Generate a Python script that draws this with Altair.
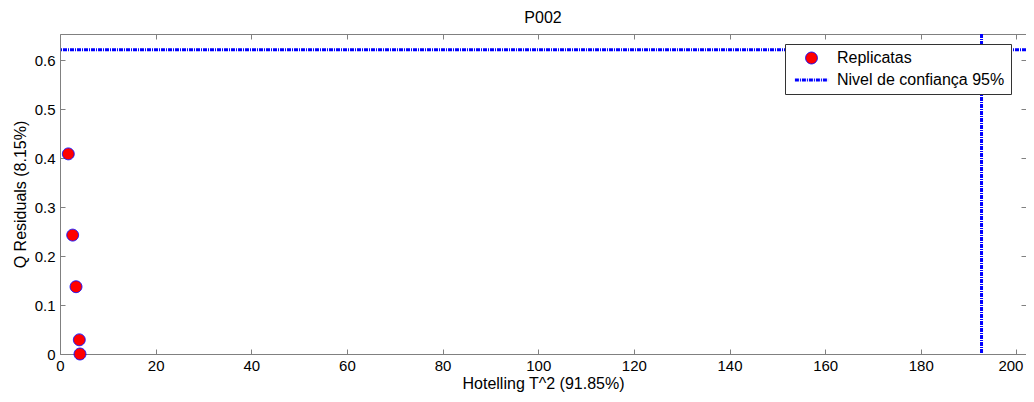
import altair as alt
import pandas as pd

# data
t2_values = [1.74, 2.65, 3.35, 4.04, 4.18]
q_values = [0.409, 0.243, 0.1375, 0.029, 0.0]
t2_limit = [192.7]
q_limit = [0.6217]
series_names = ["Replicatas", "Nivel de confiança 95%"]
x_ticks = [0, 20, 40, 60, 80, 100, 120, 140, 160, 180, 200]
y_ticks = [0, 0.1, 0.2, 0.3, 0.4, 0.5, 0.6]

points = pd.DataFrame({"t2": t2_values, "q": q_values, "series": series_names[0]})
vlim = pd.DataFrame({"t2": t2_limit, "series": series_names[1]})
hlim = pd.DataFrame({"q": q_limit, "series": series_names[1]})

FONT = "Liberation Sans"
GRAY = "#808080"
BLUE = "#0000ff"
DASH = [4, 1, 1, 1]
xdom = [0, 202]
ydom = [0, 0.654]

axis_common = dict(domain=False, grid=False, tickColor=GRAY, tickSize=5, offset=-5,
                   labelFont=FONT, labelFontSize=15, labelColor="black",
                   titleFont=FONT, titleFontSize=16, titleColor="black", titleFontWeight="normal")

x_bottom = alt.X("t2:Q", scale=alt.Scale(domain=xdom, nice=False, zero=False),
                 axis=alt.Axis(values=x_ticks, title="Hotelling T^2 (91.85%)", labelPadding=4,
                               titlePadding=2, labelFlush=False,
                               labelOffset={"condition": {"test": "datum.value == 200", "value": -6}, "value": 0},
                               **axis_common))
y_left = alt.Y("q:Q", scale=alt.Scale(domain=ydom, nice=False, zero=False),
               axis=alt.Axis(values=y_ticks, format="~g", title="Q Residuals (8.15%)",
                             labelPadding=5, titlePadding=6, labelFlush=False, **axis_common))

sdom = series_names
legend = alt.Legend(title=None, orient="none", legendX=725, legendY=10,
                    fillColor="white", strokeColor="#333333", padding=6,
                    labelFont=FONT, labelFontSize=16, labelColor="black", labelLimit=400,
                    rowPadding=6, clipHeight=16, symbolOffset=2, labelOffset=7)

pts = alt.Chart(points).mark_point(filled=True, opacity=1).encode(
    x=x_bottom,
    y=y_left,
    fill=alt.Fill("series:N", scale=alt.Scale(domain=sdom, range=["#ff0000", BLUE]), legend=legend),
    stroke=alt.Stroke("series:N", scale=alt.Scale(domain=sdom, range=[BLUE, BLUE])),
    shape=alt.Shape("series:N", scale=alt.Scale(domain=sdom, range=["circle", "stroke"])),
    size=alt.Size("series:N", scale=alt.Scale(domain=sdom, range=[140, 1100])),
    strokeWidth=alt.StrokeWidth("series:N", scale=alt.Scale(domain=sdom, range=[1, 3])),
    strokeDash=alt.StrokeDash("series:N", scale=alt.Scale(domain=sdom, range=[[1, 0], DASH])),
)

vrule = alt.Chart(vlim).mark_rule(color=BLUE, strokeWidth=3, strokeDash=DASH).encode(
    x=alt.X("t2:Q", scale=alt.Scale(domain=xdom, nice=False, zero=False),
            axis=alt.Axis(orient="top", values=x_ticks, labels=False, title=None, **axis_common)),
)
hrule = alt.Chart(hlim).mark_rule(color=BLUE, strokeWidth=3, strokeDash=DASH).encode(
    y=alt.Y("q:Q", scale=alt.Scale(domain=ydom, nice=False, zero=False),
            axis=alt.Axis(orient="right", values=y_ticks, labels=False, title=None, **axis_common)),
)

chart = alt.layer(hrule, vrule, pts).resolve_axis(x="independent", y="independent").properties(
    width=966, height=320,
    title=alt.Title("P002", font=FONT, fontSize=16, fontWeight="normal", color="black", offset=7),
    autosize=alt.AutoSizeParams(type="none"),
    padding={"left": 52, "top": 26, "right": 0, "bottom": 40},
).configure_view(stroke=GRAY, strokeWidth=1)

chart.save("out.html", embed_options={"renderer": "svg", "actions": False})
